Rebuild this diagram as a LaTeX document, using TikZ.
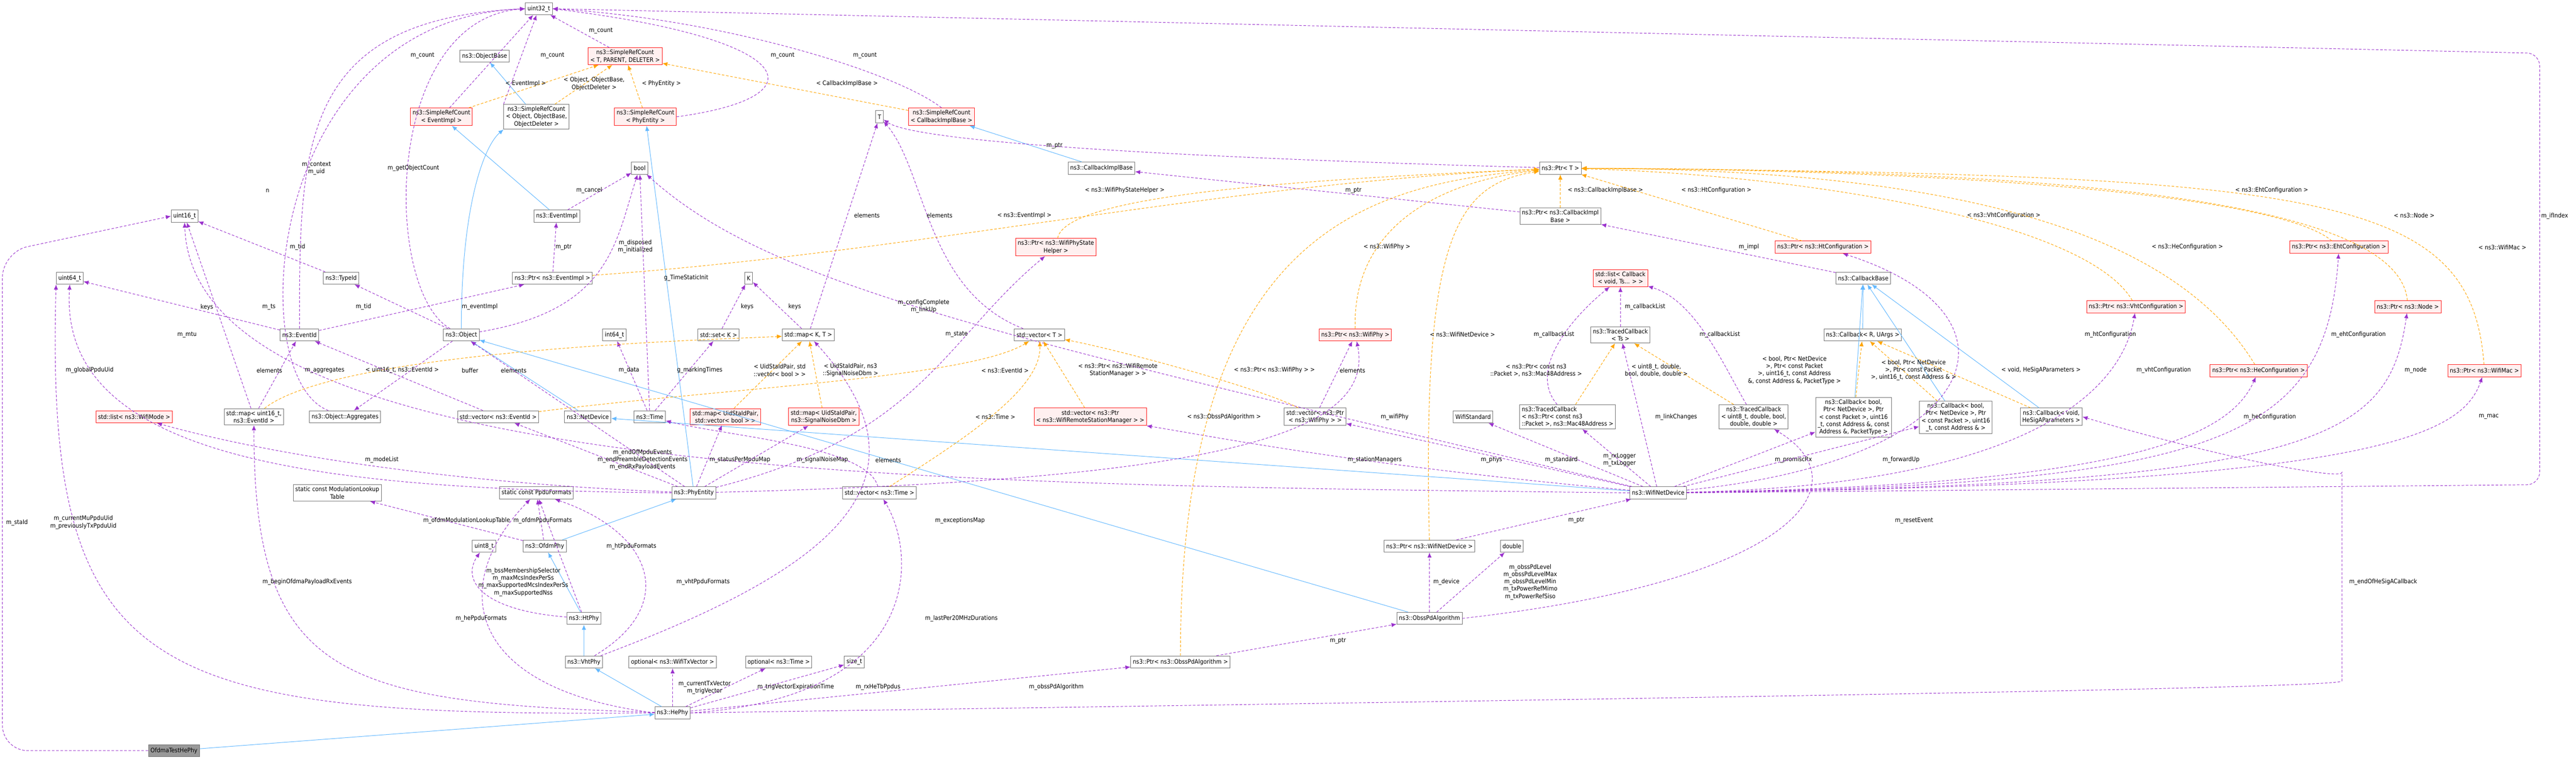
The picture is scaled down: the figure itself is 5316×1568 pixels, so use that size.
\documentclass[tikz,border=0pt]{standalone}
\usepackage{fontspec}
\setmainfont{DejaVu Sans Condensed}
\usetikzlibrary{arrows.meta}
\definecolor{dgpurple}{HTML}{9A32CD}
\definecolor{dgblue}{HTML}{63B8FF}
\definecolor{dgorange}{HTML}{FFA500}
\newcommand{\dgfont}{\fontsize{7.2}{8.6}\selectfont}

\tikzset{
  cls/.style={draw=black!55, fill=white, font=\dgfont, inner sep=2.5pt, minimum height=0.5cm, align=center, line width=0.6pt},
  clsred/.style={cls, draw=red!90, fill=red!6},
  dep/.style={draw=dgpurple, dash pattern=on 3pt off 2pt, line width=0.6pt, -{Latex[length=6pt,width=5pt]}},
  inh/.style={draw=dgblue, line width=0.6pt, -{Latex[length=6pt,width=5pt]}},
  tpl/.style={draw=dgorange, dash pattern=on 3pt off 2pt, line width=0.6pt, -{Latex[length=6pt,width=5pt]}},
  lbl/.style={font=\dgfont, text=black, align=center, inner sep=1pt}
}

\begin{document}
\begin{tikzpicture}[x=0.02cm, y=-0.02cm]
  \useasboundingbox (0,0) rectangle (5316,1568);

  % classes, top to bottom
  \node[cls] (u32) at (1112,18) {uint32\_t};
  \node[cls] (objbase) at (1000,116) {ns3::ObjectBase};
  \node[clsred] (srcT) at (1290,116) {ns3::SimpleRefCount\\< T, PARENT, DELETER >};
  \node[clsred] (srcEv) at (911,241) {ns3::SimpleRefCount\\< EventImpl >};
  \node[cls] (srcObj) at (1107,241) {ns3::SimpleRefCount\\< Object, ObjectBase,\\ObjectDeleter >};
  \node[clsred] (srcPhy) at (1332,241) {ns3::SimpleRefCount\\< PhyEntity >};
  \node[cls] (T) at (1815,241) {T};
  \node[clsred] (srcCb) at (1943,241) {ns3::SimpleRefCount\\< CallbackImplBase >};
  \node[cls] (bool) at (1320,347) {bool};
  \node[cls] (cbimpl) at (2273,347) {ns3::CallbackImplBase};
  \node[cls] (ptrT) at (3220,347) {ns3::Ptr< T >};
  \node[cls] (u16) at (381,446) {uint16\_t};
  \node[cls] (evimpl) at (1149,446) {ns3::EventImpl};
  \node[cls] (ptrCb) at (3220,446) {ns3::Ptr< ns3::CallbackImpl\\Base >};
  \node[clsred] (ptrPsh) at (2179,510) {ns3::Ptr< ns3::WifiPhyState\\Helper >};
  \node[clsred] (ptrHt) at (3762,510) {ns3::Ptr< ns3::HtConfiguration >};
  \node[clsred] (ptrEht) at (4827,510) {ns3::Ptr< ns3::EhtConfiguration >};
  \node[cls] (u64) at (144,574) {uint64\_t};
  \node[cls] (typeid) at (704,574) {ns3::TypeId};
  \node[cls] (ptrEv) at (1140,574) {ns3::Ptr< ns3::EventImpl >};
  \node[cls] (K) at (1545,574) {K};
  \node[clsred] (listCb) at (3344,574) {std::list< Callback\\< void, Ts... > >};
  \node[cls] (cbbase) at (3845,574) {ns3::CallbackBase};
  \node[clsred] (ptrVht) at (4408,633) {ns3::Ptr< ns3::VhtConfiguration >};
  \node[clsred] (ptrNode) at (4969,633) {ns3::Ptr< ns3::Node >};
  \node[cls] (eventid) at (618,691) {ns3::EventId};
  \node[cls] (object) at (952,691) {ns3::Object};
  \node[cls] (i64) at (1268,691) {int64\_t};
  \node[cls] (setK) at (1483,691) {std::set< K >};
  \node[cls] (mapKT) at (1668,691) {std::map< K, T >};
  \node[cls] (vecT) at (2145,691) {std::vector< T >};
  \node[clsred] (ptrPhy) at (2797,691) {ns3::Ptr< ns3::WifiPhy >};
  \node[cls] (tcTs) at (3344,691) {ns3::TracedCallback\\< Ts >};
  \node[cls] (cbR) at (3844,691) {ns3::Callback< R, UArgs >};
  \node[clsred] (ptrHe) at (4661,765) {ns3::Ptr< ns3::HeConfiguration >};
  \node[clsred] (ptrMac) at (5127,765) {ns3::Ptr< ns3::WifiMac >};
  \node[clsred] (listMode) at (277,860) {std::list< ns3::WifiMode >};
  \node[cls] (mapEv) at (524,860) {std::map< uint16\_t,\\ns3::EventId >};
  \node[cls] (aggr) at (712,860) {ns3::Object::Aggregates};
  \node[cls] (vecEv) at (1028,860) {std::vector< ns3::EventId >};
  \node[cls] (netdev) at (1213,860) {ns3::NetDevice};
  \node[cls] (time) at (1341,860) {ns3::Time};
  \node[clsred] (mapBool) at (1497,860) {std::map< UidStaIdPair,\\std::vector< bool > >};
  \node[clsred] (mapSnr) at (1700,860) {std::map< UidStaIdPair,\\ns3::SignalNoiseDbm >};
  \node[clsred] (vecRsm) at (2250,860) {std::vector< ns3::Ptr\\< ns3::WifiRemoteStationManager > >};
  \node[cls] (vecPhy) at (2714,860) {std::vector< ns3::Ptr\\< ns3::WifiPhy > >};
  \node[cls] (wstd) at (3040,860) {WifiStandard};
  \node[cls, align=left] (tcPkt) at (3235,860) {ns3::TracedCallback\\< ns3::Ptr< const ns3\\::Packet >, ns3::Mac48Address >};
  \node[cls] (tcU8) at (3619,860) {ns3::TracedCallback\\< uint8\_t, double, bool,\\double, double >};
  \node[cls] (cbPromisc) at (3825,861) {ns3::Callback< bool,\\Ptr< NetDevice >, Ptr\\< const Packet >, uint16\\\_t, const Address \&, const\\Address \&, PacketType >};
  \node[cls] (cbFwd) at (4036,861) {ns3::Callback< bool,\\Ptr< NetDevice >, Ptr\\< const Packet >, uint16\\\_t, const Address \& >};
  \node[cls] (cbHeSig) at (4233,860) {ns3::Callback< void,\\HeSigAParameters >};
  \node[cls] (modtab) at (696,1017) {static const ModulationLookup\\Table};
  \node[cls] (ppdu) at (1107,1017) {static const PpduFormats};
  \node[cls] (phyent) at (1432,1017) {ns3::PhyEntity};
  \node[cls] (vecTime) at (1815,1017) {std::vector< ns3::Time >};
  \node[cls] (wnd) at (3422,1017) {ns3::WifiNetDevice};
  \node[cls] (u8) at (999,1127) {uint8\_t};
  \node[cls] (ofdm) at (1124,1127) {ns3::OfdmPhy};
  \node[cls] (ptrWnd) at (2950,1127) {ns3::Ptr< ns3::WifiNetDevice >};
  \node[cls] (dbl) at (3120,1127) {double};
  \node[cls] (htphy) at (1205,1276) {ns3::HtPhy};
  \node[cls] (obss) at (2950,1276) {ns3::ObssPdAlgorithm};
  \node[cls] (vhtphy) at (1205,1366) {ns3::VhtPhy};
  \node[cls] (optTx) at (1388,1366) {optional< ns3::WifiTxVector >};
  \node[cls] (optTime) at (1607,1366) {optional< ns3::Time >};
  \node[cls] (sizet) at (1763,1366) {size\_t};
  \node[cls] (ptrObss) at (2436,1366) {ns3::Ptr< ns3::ObssPdAlgorithm >};
  \node[cls] (hephy) at (1388,1471) {ns3::HePhy};
  \node[cls, fill=black!40] (testphy) at (359,1549) {OfdmaTestHePhy};

  % inheritance
  \foreach \s/\t in {srcObj/objbase, evimpl/srcEv, phyent/srcPhy, cbimpl/srcCb, netdev/object,
                     wnd/netdev, obss/object, ofdm/phyent, htphy/ofdm, vhtphy/htphy, hephy/vhtphy,
                     testphy/hephy, cbR/cbbase, cbPromisc/cbbase, cbFwd/cbbase, cbHeSig/cbbase}
    \draw[inh] (\s) -- (\t);
  \draw[inh] (object.north) .. controls (952,420) and (1000,300) .. (srcObj.south west);

  % members
  \draw[dep] (srcEv) -- (u32) node[lbl] at (872,115) {m\_count};
  \draw[dep] (srcObj.north west) -- (u32) node[lbl] at (1140,115) {m\_count};
  \draw[dep] (srcT) -- (u32) node[lbl] at (1240,63) {m\_count};
  \draw[dep] (srcPhy.east) .. controls (1700,200) and (1650,80) .. (u32.east) node[lbl] at (1615,115) {m\_count};
  \draw[dep] (srcCb.north) .. controls (1850,150) and (1500,40) .. (u32.east) node[lbl] at (1785,115) {m\_count};
  \draw[dep] (object) .. controls (790,600) and (790,40) .. (u32.west) node[lbl] at (853,347) {m\_getObjectCount};
  \draw[dep] (eventid) .. controls (618,300) and (618,40) .. (u32.west) node[lbl] at (653,347) {m\_context\\m\_uid};
  \draw[dep] (aggr) .. controls (500,780) and (545,40) .. (u32.west) node[lbl] at (552,394) {n};
  \draw[dep, rounded corners=15] (wnd.east) -- (5241,1000) -- (5241,110) -- (u32.east) node[lbl] at (5272,446) {m\_ifIndex};
  \draw[dep, rounded corners=30] (testphy.west) -- (5,1549) -- (5,520) -- (u16.west) node[lbl] at (35,1078) {m\_staId};
  \draw[dep] (typeid) -- (u16) node[lbl] at (614,510) {m\_tid};
  \draw[dep] (mapEv) -- (u16) node[lbl] at (427,634) {keys};
  \draw[dep] (wnd.west) .. controls (2000,1000) and (400,1000) .. (u16.south) node[lbl] at (386,691) {m\_mtu};
  \draw[dep] (eventid) -- (u64) node[lbl] at (555,633) {m\_ts};
  \draw[dep] (hephy.west) .. controls (300,1480) and (93,1400) .. (u64.south west) node[lbl] at (172,1078) {m\_currentMuPpduUid\\m\_previouslyTxPpduUid};
  \draw[dep] (phyent.west) .. controls (700,1010) and (120,960) .. (u64.south) node[lbl] at (185,764) {m\_globalPpduUid};
  \draw[dep] (object) -- (typeid) node[lbl] at (750,633) {m\_tid};
  \draw[dep] (mapEv) -- (eventid) node[lbl] at (556,764) {elements};
  \draw[dep] (vecEv) -- (eventid) node[lbl] at (1060,764) {elements};
  \draw[dep] (eventid) -- (ptrEv) node[lbl] at (990,633) {m\_eventImpl};
  \draw[dep] (object) -- (aggr) node[lbl] at (670,764) {m\_aggregates};
  \draw[dep] (phyent) -- (object) node[lbl] at (970,764) {buffer};
  \draw[dep] (evimpl) -- (bool) node[lbl] at (1216,393) {m\_cancel};
  \draw[dep] (ptrEv) -- (evimpl) node[lbl] at (1163,510) {m\_ptr};
  \draw[dep] (object) .. controls (1260,640) and (1270,500) .. (bool) node[lbl] at (1311,509) {m\_disposed\\m\_initialized};
  \draw[dep] (time) -- (bool) node[lbl] at (1416,573) {g\_TimeStaticInit};
  \draw[dep] (setK) -- (K) node[lbl] at (1542,633) {keys};
  \draw[dep] (mapKT) -- (K) node[lbl] at (1640,633) {keys};
  \draw[dep] (mapKT) -- (T) node[lbl] at (1789,445) {elements};
  \draw[dep] (vecT) .. controls (1910,600) and (1910,350) .. (T) node[lbl] at (1939,445) {elements};
  \draw[dep] (wnd) .. controls (2100,700) and (1600,600) .. (bool) node[lbl] at (1906,632) {m\_configComplete\\m\_linkUp};
  \draw[dep] (phyent) .. controls (1900,900) and (1950,700) .. (ptrPsh) node[lbl] at (1974,690) {m\_state};
  \draw[dep] (time) -- (i64) node[lbl] at (1298,764) {m\_data};
  \draw[dep] (time) -- (setK) node[lbl] at (1444,764) {g\_markingTimes};
  \draw[dep] (ptrCb) -- (cbimpl) node[lbl] at (2793,393) {m\_ptr};
  \draw[dep] (ptrT) .. controls (2600,330) and (1900,300) .. (T) node[lbl] at (2176,301) {m\_ptr};
  \draw[dep] (cbbase) -- (ptrCb) node[lbl] at (3609,510) {m\_impl};
  \draw[dep] (tcTs) -- (listCb) node[lbl] at (3395,633) {m\_callbackList};
  \draw[dep] (tcPkt) .. controls (3150,760) and (3250,650) .. (listCb) node[lbl] at (3207,690) {m\_callbackList};
  \draw[dep] (tcU8) .. controls (3560,760) and (3500,620) .. (listCb) node[lbl] at (3549,690) {m\_callbackList};
  \draw[dep] (wnd) .. controls (4100,950) and (4200,650) .. (ptrHt) node[lbl] at (4355,690) {m\_htConfiguration};
  \draw[dep] (wnd) .. controls (4200,1000) and (4380,800) .. (ptrVht) node[lbl] at (4465,764) {m\_vhtConfiguration};
  \draw[dep] (wnd) .. controls (4400,1000) and (4600,900) .. (ptrHe) node[lbl] at (4684,860) {m\_heConfiguration};
  \draw[dep] (wnd) .. controls (4600,1000) and (4800,900) .. (ptrEht) node[lbl] at (4867,690) {m\_ehtConfiguration};
  \draw[dep] (wnd) .. controls (4800,1000) and (4930,900) .. (ptrNode) node[lbl] at (4985,764) {m\_node};
  \draw[dep] (wnd) .. controls (4900,1000) and (5080,900) .. (ptrMac) node[lbl] at (5136,860) {m\_mac};
  \draw[dep, rounded corners=20] (hephy.east) .. controls (3500,1440) and (4833,1420) .. (4833,1370) -- (4833,1010) .. controls (4833,990) and (4600,950) .. (cbHeSig.east) node[lbl] at (4918,1201) {m\_endOfHeSigACallback};
  \draw[dep] (wnd) -- (cbPromisc) node[lbl] at (3701,949) {m\_promiscRx};
  \draw[dep] (wnd) -- (cbFwd) node[lbl] at (3923,949) {m\_forwardUp};
  \draw[dep] (wnd) -- (tcTs) node[lbl] at (3459,860) {m\_linkChanges};
  \draw[dep] (wnd) -- (tcPkt) node[lbl] at (3342,949) {m\_rxLogger\\m\_txLogger};
  \draw[dep] (wnd) -- (wstd) node[lbl] at (3222,949) {m\_standard};
  \draw[dep] (wnd) -- (vecPhy) node[lbl] at (3078,949) {m\_phys};
  \draw[dep] (wnd) .. controls (2800,960) and (2500,900) .. (vecRsm) node[lbl] at (2837,949) {m\_stationManagers};
  \draw[dep] (phyent) .. controls (2500,990) and (2840,900) .. (ptrPhy) node[lbl] at (2878,860) {m\_wifiPhy};
  \draw[dep] (vecPhy) -- (ptrPhy) node[lbl] at (2791,764) {elements};
  \draw[dep] (obss) -- (ptrWnd) node[lbl] at (2985,1201) {m\_device};
  \draw[dep] (obss) -- (dbl) node[lbl] at (3158,1201) {m\_obssPdLevel\\m\_obssPdLevelMax\\m\_obssPdLevelMin\\m\_txPowerRefMimo\\m\_txPowerRefSiso};
  \draw[dep] (ptrWnd) -- (wnd) node[lbl] at (3253,1074) {m\_ptr};
  \draw[dep] (ptrObss) -- (obss) node[lbl] at (2761,1322) {m\_ptr};
  \draw[dep] (obss.east) .. controls (3700,1200) and (3850,1000) .. (tcU8) node[lbl] at (3950,1074) {m\_resetEvent};
  \draw[dep] (hephy) -- (ptrObss) node[lbl] at (2180,1418) {m\_obssPdAlgorithm};
  \draw[dep] (hephy) -- (sizet) node[lbl] at (1812,1418) {m\_rxHeTbPpdus};
  \draw[dep] (hephy) -- (optTime) node[lbl] at (1642,1418) {m\_trigVectorExpirationTime};
  \draw[dep] (hephy) -- (optTx) node[lbl] at (1454,1419) {m\_currentTxVector\\m\_trigVector};
  \draw[dep] (hephy.east) .. controls (1900,1440) and (1895,1150) .. (vecTime) node[lbl] at (1984,1276) {m\_lastPer20MHzDurations};
  \draw[dep] (vhtphy) .. controls (1700,1180) and (1950,1000) .. (mapKT) node[lbl] at (1981,1074) {m\_exceptionsMap};
  \draw[dep] (phyent) -- (mapBool) node[lbl] at (1527,949) {m\_statusPerMpduMap};
  \draw[dep] (phyent) -- (mapSnr) node[lbl] at (1697,949) {m\_signalNoiseMap};
  \draw[dep] (vecTime) .. controls (1790,920) and (1500,900) .. (time) node[lbl] at (1833,949) {elements};
  \draw[dep] (phyent) -- (vecEv) node[lbl] at (1326,949) {m\_endOfMpduEvents\\m\_endPreambleDetectionEvents\\m\_endRxPayloadEvents};
  \draw[dep] (vhtphy) .. controls (1400,1250) and (1350,1100) .. (ppdu) node[lbl] at (1451,1201) {m\_vhtPpduFormats};
  \draw[dep] (htphy) -- (ppdu) node[lbl] at (1303,1127) {m\_htPpduFormats};
  \draw[dep] (ofdm) -- (ppdu) node[lbl] at (1120,1074) {m\_ofdmPpduFormats};
  \draw[dep] (ofdm) -- (modtab) node[lbl] at (963,1074) {m\_ofdmModulationLookupTable};
  \draw[dep] (hephy.west) .. controls (950,1420) and (928,1200) .. (ppdu) node[lbl] at (993,1276) {m\_hePpduFormats};
  \draw[dep] (htphy) .. controls (1000,1260) and (950,1200) .. (u8) node[lbl] at (1080,1201) {m\_bssMembershipSelector\\m\_maxMcsIndexPerSs\\m\_maxSupportedMcsIndexPerSs\\m\_maxSupportedNss};
  \draw[dep] (phyent) .. controls (1000,1000) and (600,950) .. (listMode) node[lbl] at (788,949) {m\_modeList};
  \draw[dep] (hephy) .. controls (700,1450) and (524,1400) .. (mapEv) node[lbl] at (634,1201) {m\_beginOfdmaPayloadRxEvents};

  % template instances
  \draw[tpl] (srcEv) -- (srcT) node[lbl] at (1085,173) {< EventImpl >};
  \draw[tpl] (srcObj) -- (srcT) node[lbl] at (1226,173) {< Object, ObjectBase,\\ObjectDeleter >};
  \draw[tpl] (srcPhy) -- (srcT) node[lbl] at (1365,173) {< PhyEntity >};
  \draw[tpl] (srcCb) -- (srcT) node[lbl] at (1748,173) {< CallbackImplBase >};
  \draw[tpl] (ptrEv) .. controls (1900,520) and (2500,380) .. (ptrT) node[lbl] at (2114,445) {< ns3::EventImpl >};
  \draw[tpl] (ptrPsh) .. controls (2200,400) and (2700,370) .. (ptrT) node[lbl] at (2321,393) {< ns3::WifiPhyStateHelper >};
  \draw[tpl] (ptrCb) -- (ptrT) node[lbl] at (3313,393) {< ns3::CallbackImplBase >};
  \draw[tpl] (ptrHt) -- (ptrT) node[lbl] at (3542,393) {< ns3::HtConfiguration >};
  \draw[tpl] (ptrVht) .. controls (4300,450) and (3700,360) .. (ptrT) node[lbl] at (4135,445) {< ns3::VhtConfiguration >};
  \draw[tpl] (ptrEht) .. controls (4700,400) and (4000,350) .. (ptrT) node[lbl] at (4688,393) {< ns3::EhtConfiguration >};
  \draw[tpl] (ptrHe) .. controls (4500,500) and (4100,350) .. (ptrT) node[lbl] at (4514,510) {< ns3::HeConfiguration >};
  \draw[tpl] (ptrNode) .. controls (4950,420) and (4300,350) .. (ptrT) node[lbl] at (4982,445) {< ns3::Node >};
  \draw[tpl] (ptrMac) .. controls (5100,400) and (4800,360) .. (ptrT) node[lbl] at (5164,510) {< ns3::WifiMac >};
  \draw[tpl] (ptrPhy) .. controls (2790,450) and (3000,370) .. (ptrT) node[lbl] at (2862,510) {< ns3::WifiPhy >};
  \draw[tpl] (ptrWnd) .. controls (2935,500) and (3000,380) .. (ptrT) node[lbl] at (3018,690) {< ns3::WifiNetDevice >};
  \draw[tpl] (ptrObss) .. controls (2436,500) and (2800,380) .. (ptrT) node[lbl] at (2526,860) {< ns3::ObssPdAlgorithm >};
  \draw[tpl] (vecPhy) .. controls (2600,800) and (2300,720) .. (vecT) node[lbl] at (2630,764) {< ns3::Ptr< ns3::WifiPhy > >};
  \draw[tpl] (vecRsm) -- (vecT) node[lbl] at (2307,764) {< ns3::Ptr< ns3::WifiRemote\\StationManager > >};
  \draw[tpl] (tcPkt) -- (tcTs) node[lbl] at (3170,764) {< ns3::Ptr< const ns3\\::Packet >, ns3::Mac48Address >};
  \draw[tpl] (tcU8) -- (tcTs) node[lbl] at (3418,764) {< uint8\_t, double,\\bool, double, double >};
  \draw[tpl] (cbPromisc) -- (cbR) node[lbl] at (3703,764) {< bool, Ptr< NetDevice\\>, Ptr< const Packet\\>, uint16\_t, const Address\\\&, const Address \&, PacketType >};
  \draw[tpl] (cbFwd) -- (cbR) node[lbl] at (3949,764) {< bool, Ptr< NetDevice\\>, Ptr< const Packet\\>, uint16\_t, const Address \& >};
  \draw[tpl] (cbHeSig) -- (cbR) node[lbl] at (4212,764) {< void, HeSigAParameters >};
  \draw[tpl] (mapBool) -- (mapKT) node[lbl] at (1609,764) {< UidStaIdPair, std\\::vector< bool > >};
  \draw[tpl] (mapSnr) -- (mapKT) node[lbl] at (1755,764) {< UidStaIdPair, ns3\\::SignalNoiseDbm >};
  \draw[tpl] (vecEv) .. controls (1500,800) and (2000,780) .. (vecT) node[lbl] at (2074,764) {< ns3::EventId >};
  \draw[tpl] (vecTime) .. controls (2000,900) and (2150,800) .. (vecT) node[lbl] at (2054,860) {< ns3::Time >};
  \draw[tpl] (mapEv) .. controls (700,720) and (1500,700) .. (mapKT) node[lbl] at (830,764) {< uint16\_t, ns3::EventId >};
\end{tikzpicture}
\end{document}
